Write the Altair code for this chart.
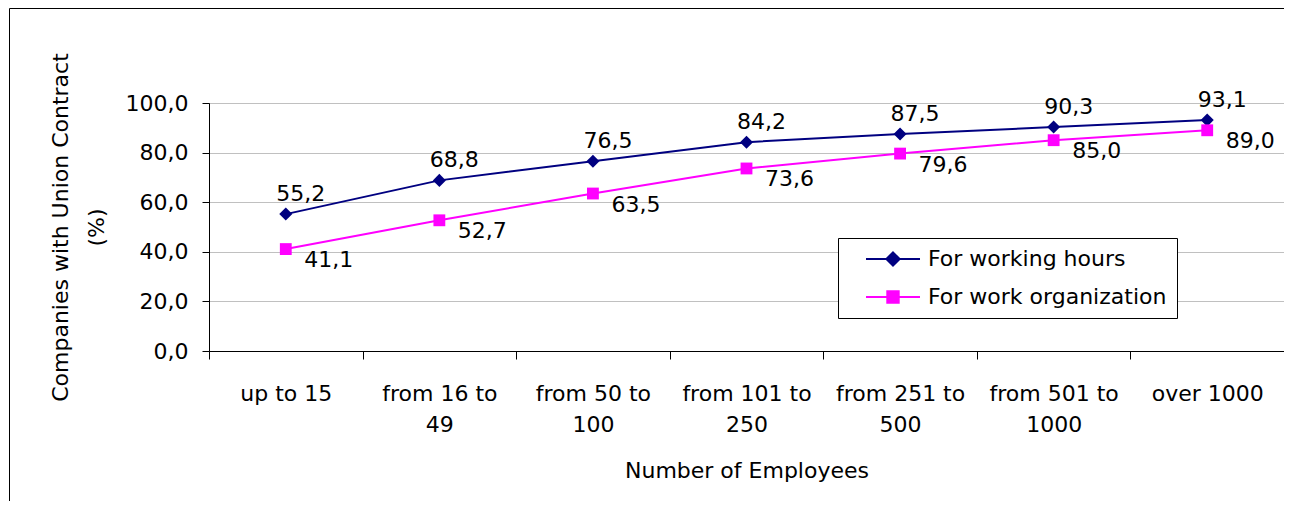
import altair as alt
import pandas as pd

categories = ["up to 15", "from 16 to 49", "from 50 to 100", "from 101 to 250",
              "from 251 to 500", "from 501 to 1000", "over 1000"]
series_names = ["For working hours", "For work organization"]
working_hours = [55.2, 68.8, 76.5, 84.2, 87.5, 90.3, 93.1]
work_organization = [41.1, 52.7, 63.5, 73.6, 79.6, 85.0, 89.0]
y_ticks = [0, 20, 40, 60, 80, 100]
colors = ["#000080", "#FF00FF"]
shapes = ["diamond", "square"]

rows = []
for name, vals in zip(series_names, [working_hours, work_organization]):
    for c, v in zip(categories, vals):
        rows.append({"category": c, "series": name, "value": v})
df = pd.DataFrame(rows)

FONT = "DejaVu Sans"
FS = 22

# legend symbols: a line segment with the series marker on it
legend_paths = ["M-4.5,0H4.5M0,-1.1L1.1,0L0,1.1L-1.1,0Z",
                "M-4.5,0H4.5M-0.95,-0.95H0.95V0.95H-0.95Z"]

legend = alt.Legend(
    title=None, orient="none", legendX=629, legendY=135,
    fillColor="white", strokeColor="black", padding=10,
    labelFont=FONT, labelFontSize=FS, labelColor="black", labelLimit=500,
    labelExpr="datum.label + '\u00a0\u00a0\u00a0\u00a0\u00a0'",
    symbolSize=144, symbolStrokeWidth=2, symbolOffset=34, labelOffset=24,
    rowPadding=16, symbolOpacity=1, symbolStrokeColor="black",
)

x_enc = alt.X(
    "category:N", sort=categories,
    scale=alt.Scale(type="band", domain=categories, paddingInner=0, paddingOuter=0),
    axis=alt.Axis(
        title="Number of Employees", titleFont=FONT, titleFontSize=FS, titleColor="black",
        titleFontWeight="normal", titleY=126, titleBaseline="alphabetic",
        labelFont=FONT, labelFontSize=FS, labelColor="black", labelAngle=0,
        labelLineHeight=31, labelPadding=24, labelOverlap=False,
        labelExpr="length(datum.label) > 9 ? [substring(datum.label, 0, lastindexof(datum.label, ' ')), substring(datum.label, lastindexof(datum.label, ' ') + 1)] : datum.label",
        tickSize=8, tickColor="black", domainColor="black", tickBand="extent", grid=False,
    ),
)

y_enc = alt.Y(
    "value:Q",
    scale=alt.Scale(domain=[0, 100], nice=False),
    axis=alt.Axis(
        values=y_ticks, labelExpr="replace(format(datum.value, '.1f'), '.', ',')",
        labelFont=FONT, labelFontSize=FS, labelColor="black", labelPadding=14,
        tickSize=7, tickColor="black", domainColor="black",
        grid=True, gridColor="#C0C0C0",
        title=["Companies with Union Contract", "(%)"], titleFont=FONT, titleFontSize=FS,
        titleColor="black", titleFontWeight="normal", titleAngle=-90,
        titleX=-142, titleY=124, titleAlign="center", titleBaseline="alphabetic",
        titleLineHeight=36,
    ),
)

base = alt.Chart(df)

border = alt.Chart(pd.DataFrame({"k": [0]})).mark_rect(
    filled=False, stroke="black", strokeWidth=1
).encode(
    x=alt.value(-199.5), x2=alt.value(1300), y=alt.value(-94.5), y2=alt.value(600)
)

label_calc = "replace(format(datum.value, '.1f'), '.', ',')"
label_offsets = [(15, -13), (43, 18)]
marker_sizes = [170, 140]

series_layers = []
for name, color, shape, size in zip(series_names, colors, shapes, marker_sizes):
    sub = base.transform_filter(alt.datum.series == name)
    series_layers.append(sub.mark_line(strokeWidth=2, color=color).encode(x=x_enc, y=y_enc))
    series_layers.append(sub.mark_point(filled=True, size=size, opacity=1, shape=shape, color=color)
                         .encode(x=x_enc, y=y_enc))

text_layers = []
for name, (ldx, ldy) in zip(series_names, label_offsets):
    sub = base.transform_filter(alt.datum.series == name)
    text_layers.append(sub.transform_calculate(label=label_calc).mark_text(
        font=FONT, fontSize=FS, color="black", baseline="alphabetic", align="center",
        dx=ldx, dy=ldy).encode(x=x_enc, y=y_enc, text="label:N"))

# layer without drawn marks that only carries the legend (line + marker symbols)
legend_layer = base.transform_filter("false").mark_point(filled=True, strokeWidth=2).encode(
    x=x_enc, y=y_enc,
    fill=alt.Fill("series:N", scale=alt.Scale(domain=series_names, range=colors), legend=legend),
    stroke=alt.Stroke("series:N", scale=alt.Scale(domain=series_names, range=colors), legend=legend),
    shape=alt.Shape("series:N", scale=alt.Scale(domain=series_names, range=legend_paths), legend=legend),
)

chart = alt.layer(border, *series_layers, legend_layer, *text_layers).properties(
    width=1075, height=248,
    padding={"left": 201, "top": 95, "right": 0, "bottom": 150},
    autosize=alt.AutoSizeParams(type="none"),
    background="white",
).configure_view(stroke="#808080", strokeWidth=1)

chart.save("out.html", embed_options={"renderer": "svg", "actions": False})
